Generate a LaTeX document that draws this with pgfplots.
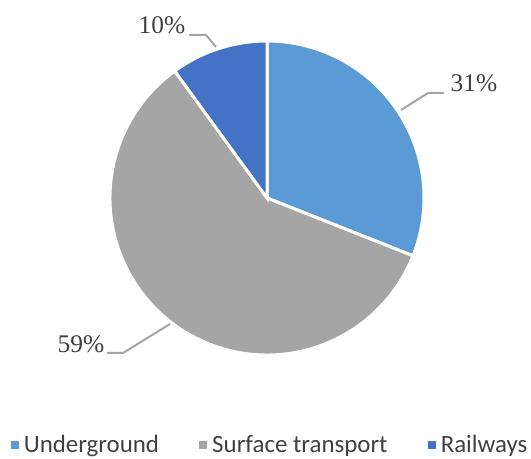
\documentclass[border=0pt]{standalone}
\usepackage{pgfplots}
\usepackage{pgfplotstable}
\pgfplotsset{compat=1.18}
\usepackage{fontspec}
\setmainfont{Liberation Serif}
\newfontfamily\legfont{Carlito}
\definecolor{ugcol}{HTML}{5B9BD5}
\definecolor{sfcol}{HTML}{A5A5A5}
\definecolor{rwcol}{HTML}{4472C4}
\definecolor{txtcol}{HTML}{404040}
\definecolor{leadcol}{HTML}{A5A5A5}
\pgfplotstableread{
label value
Underground 31
Surface 59
Railways 10
}\piedata
\pgfplotstablegetelem{0}{value}\of\piedata \edef\va{\pgfplotsretval}
\pgfplotstablegetelem{1}{value}\of\piedata \edef\vb{\pgfplotsretval}
\pgfplotstablegetelem{2}{value}\of\piedata \edef\vc{\pgfplotsretval}
\pgfmathsetmacro\aA{90}
\pgfmathsetmacro\aB{90-3.6*\va}
\pgfmathsetmacro\aC{\aB-3.6*\vb}
\pgfmathsetmacro\aD{\aC-3.6*\vc}
\begin{document}
\begin{tikzpicture}
\begin{axis}[
  scale only axis, width=531bp, height=459bp,
  xmin=0, xmax=531, ymin=0, ymax=459,
  hide axis, clip=false,
  legend columns=3,
  legend style={at={(axis cs:270,14)}, anchor=center, draw=none, fill=none,
    font=\legfont\fontsize{25}{27}\selectfont, text=txtcol,
    /tikz/every even column/.append style={column sep=38bp},
    /tikz/every odd column/.append style={column sep=0bp}},
  legend cell align=left,
]
\fill[ugcol, draw=white, line width=3bp] (axis cs:267,261) -- ++(\aA:157bp) arc[start angle=\aA, end angle=\aB, radius=157bp] -- cycle;
\fill[sfcol, draw=white, line width=3bp] (axis cs:267,261) -- ++(\aB:157bp) arc[start angle=\aB, end angle=\aC, radius=157bp] -- cycle;
\fill[rwcol, draw=white, line width=3bp] (axis cs:267,261) -- ++(\aC:157bp) arc[start angle=\aC, end angle=\aD, radius=157bp] -- cycle;
\addplot[leadcol, line width=2bp, forget plot] coordinates {(401,349) (428,366) (444,366)};
\addplot[leadcol, line width=2bp, forget plot] coordinates {(189,424) (206,424) (216,412)};
\addplot[leadcol, line width=2bp, forget plot] coordinates {(107,106) (123,106) (170,135)};
\node[text=txtcol, font=\fontsize{25.5}{28}\selectfont] at (axis cs:474,376) {31\%};
\node[text=txtcol, font=\fontsize{25.5}{28}\selectfont] at (axis cs:162,434) {10\%};
\node[text=txtcol, font=\fontsize{25.5}{28}\selectfont] at (axis cs:81,115) {59\%};
\addlegendimage{legend image code/.code={\fill[ugcol] (0bp,-3bp) rectangle (7bp,4bp); \path[draw=none] (11bp,0bp);}}
\addlegendentry{Underground}
\addlegendimage{legend image code/.code={\fill[sfcol] (0bp,-3bp) rectangle (7bp,4bp); \path[draw=none] (11bp,0bp);}}
\addlegendentry{Surface transport}
\addlegendimage{legend image code/.code={\fill[rwcol] (0bp,-3bp) rectangle (7bp,4bp); \path[draw=none] (11bp,0bp);}}
\addlegendentry{Railways}
\end{axis}
\pgfresetboundingbox
\path (current axis.south west) rectangle (current axis.north east);
\end{tikzpicture}
\end{document}
